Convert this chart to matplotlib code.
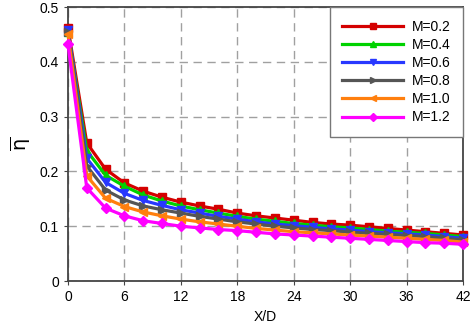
import matplotlib
matplotlib.use('Agg')
import matplotlib.pyplot as plt
import numpy as np

plt.rcParams['font.family'] = ['Liberation Sans', 'DejaVu Sans']

xd = [0, 2, 4, 6, 8, 10, 12, 14, 16, 18, 20, 22, 24, 26, 28, 30, 32, 34, 36, 38, 40, 42]
m02 = [0.462, 0.252, 0.204, 0.179, 0.164, 0.153, 0.144, 0.137, 0.131, 0.124, 0.119,
       0.115, 0.111, 0.107, 0.104, 0.102, 0.099, 0.096, 0.093, 0.090, 0.087, 0.084]
m04 = [0.455, 0.238, 0.193, 0.173, 0.157, 0.146, 0.137, 0.130, 0.124, 0.118, 0.113,
       0.109, 0.105, 0.102, 0.099, 0.097, 0.094, 0.091, 0.089, 0.087, 0.084, 0.081]
m06 = [0.458, 0.224, 0.180, 0.160, 0.147, 0.138, 0.130, 0.124, 0.118, 0.113, 0.108,
       0.104, 0.101, 0.098, 0.095, 0.093, 0.090, 0.088, 0.086, 0.084, 0.081, 0.078]
m08 = [0.455, 0.210, 0.166, 0.148, 0.137, 0.130, 0.124, 0.118, 0.113, 0.108, 0.104,
       0.100, 0.097, 0.094, 0.092, 0.089, 0.087, 0.085, 0.083, 0.081, 0.078, 0.075]
m10 = [0.450, 0.192, 0.151, 0.136, 0.126, 0.119, 0.113, 0.108, 0.104, 0.100, 0.096,
       0.093, 0.090, 0.088, 0.086, 0.084, 0.082, 0.080, 0.078, 0.076, 0.074, 0.071]
m12 = [0.432, 0.170, 0.133, 0.119, 0.110, 0.105, 0.100, 0.097, 0.094, 0.092, 0.089,
       0.086, 0.084, 0.082, 0.080, 0.078, 0.076, 0.074, 0.072, 0.070, 0.069, 0.067]

series = [
    ('M=0.2', m02, '#d40000', 's'),
    ('M=0.4', m04, '#00d200', '^'),
    ('M=0.6', m06, '#2838ff', 'v'),
    ('M=0.8', m08, '#555555', '>'),
    ('M=1.0', m10, '#ff7f0e', '<'),
    ('M=1.2', m12, '#ff00ff', 'D'),
]

fig = plt.figure(figsize=(4.72, 3.23), dpi=100)
ax = fig.add_axes([0.144, 0.130, 0.837, 0.848])

for label, vals, color, mk in series:
    ax.plot(xd, vals, color=color, marker=mk, markersize=5.5, linewidth=2.3,
            label=label, clip_on=False, zorder=3)

ax.set_xlim(0, 42)
ax.set_ylim(0, 0.5)
ax.set_xticks(np.arange(0, 43, 6))
ax.set_yticks([0, 0.1, 0.2, 0.3, 0.4, 0.5])
ax.set_yticklabels(['0', '0.1', '0.2', '0.3', '0.4', '0.5'])
ax.tick_params(labelsize=10, length=3, color='#444444')
ax.grid(True, color='#a0a0a0', linestyle=(0, (6, 4)), linewidth=1)

for sp in ax.spines.values():
    sp.set_color('#444444')
    sp.set_linewidth(1.3)

ax.set_xlabel('X/D', fontsize=10, labelpad=4)
ax.set_ylabel(r'$\overline{\mathrm{\eta}}$', fontsize=14, labelpad=5)

leg = ax.legend(loc='upper right', fontsize=10, handlelength=4.4, frameon=True,
                fancybox=False, edgecolor='#777777', framealpha=1,
                borderaxespad=0, labelspacing=0.3, borderpad=0.9,
                handletextpad=0.6, markerscale=0.8)
leg.get_frame().set_linewidth(1.0)

fig.savefig('out.png', dpi=100)
